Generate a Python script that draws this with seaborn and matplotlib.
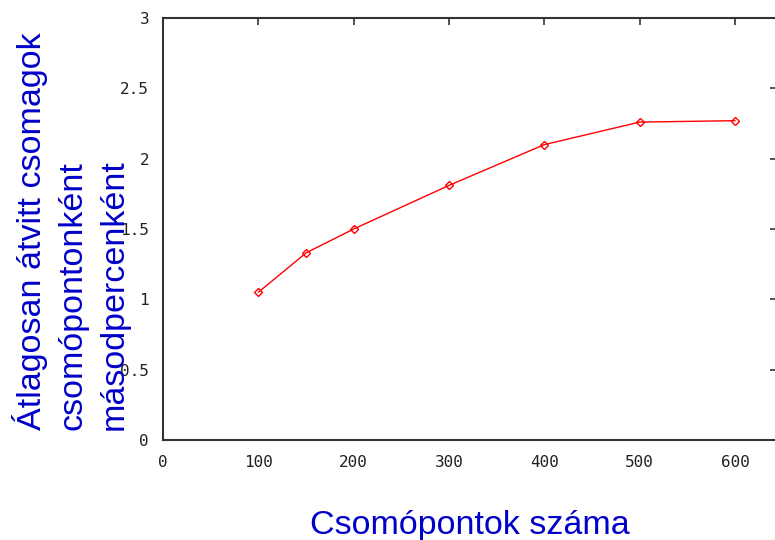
import matplotlib
matplotlib.use("Agg")
import matplotlib.pyplot as plt
import seaborn as sns
import pandas as pd

nodes = [100, 150, 200, 300, 400, 500, 600]
throughput = [1.05, 1.33, 1.50, 1.81, 2.10, 2.26, 2.27]
xticks = [0, 100, 200, 300, 400, 500, 600]
yticks = [0, 0.5, 1, 1.5, 2, 2.5, 3]
ytick_labels = ["0", "0.5", "1", "1.5", "2", "2.5", "3"]
ylabel_lines = ["Átlagosan átvitt csomagok", "csomópontonként", "másodpercenként"]
xlabel = "Csomópontok száma"

sns.set_style("white")
plt.rcParams['font.family'] = ['DejaVu Sans Mono', 'DejaVu Sans']

df = pd.DataFrame({"x": nodes, "y": throughput})

W, H = 775, 540
fig = plt.figure(figsize=(W / 100, H / 100), dpi=100)
ax = fig.add_axes([163 / W, (H - 440) / H, (777 - 163) / W, (440 - 18) / H])

sns.lineplot(data=df, x="x", y="y", ax=ax, color="#ff0000", linewidth=1.0,
             marker="D", markersize=4.5, markerfacecolor="none",
             markeredgecolor="#ff0000", markeredgewidth=1.0)

ax.set_xlim(0, 644)
ax.set_ylim(0, 3)
ax.set_xticks(xticks)
ax.set_xticklabels([str(v) for v in xticks])
ax.set_yticks(yticks)
ax.set_yticklabels(ytick_labels)
ax.tick_params(direction="in", length=5, width=1.2, color="#333333",
               top=True, right=True, labelsize=11.5, labelcolor="#222222")
ax.tick_params(axis="x", pad=11)
ax.tick_params(axis="y", pad=10)
for s in ax.spines.values():
    s.set_color("#333333")
    s.set_linewidth(1.5)
    s.set_visible(True)
ax.set_xlabel("")
ax.set_ylabel("")

blue = "#0000c8"
fig.text(470 / W, (H - 534) / H, xlabel, color=blue, fontsize=24.5,
         family="Liberation Sans", ha="center", va="baseline")
for line, bx in zip(ylabel_lines, [41, 82, 123]):
    fig.text(bx / W, (H - 430) / H, line, color=blue, fontsize=24.5,
             family="Liberation Sans", rotation=90, rotation_mode="anchor",
             ha="left", va="baseline")

fig.savefig("out.png", dpi=100)
